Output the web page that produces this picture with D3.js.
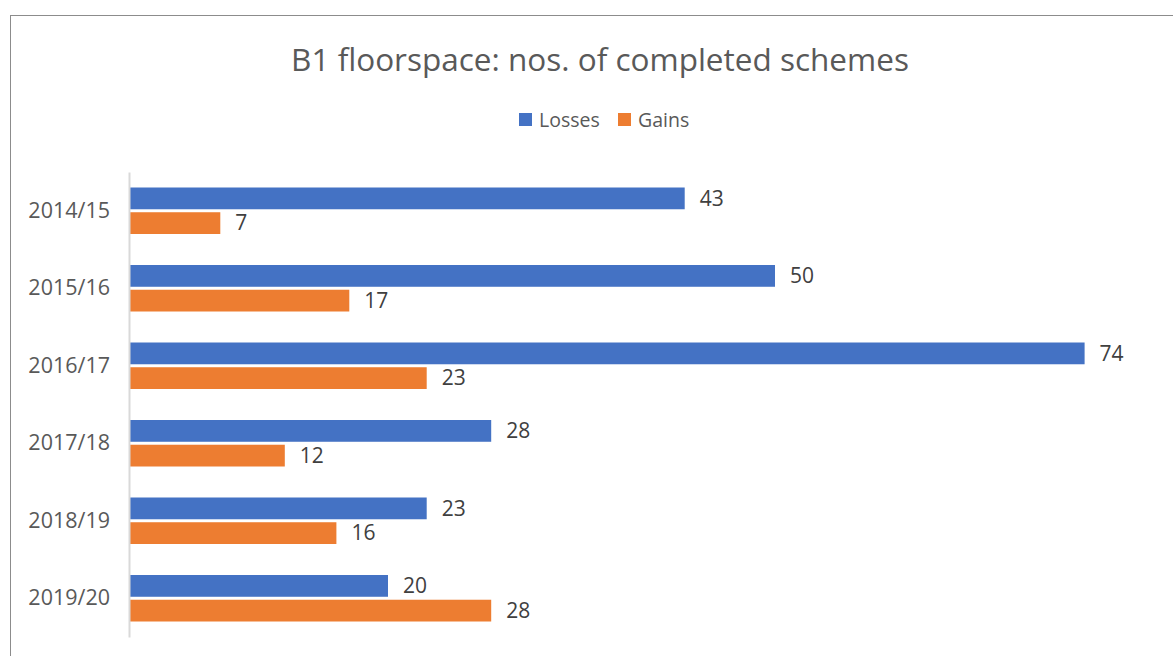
<!DOCTYPE html>
<html>
<head>
<meta charset="utf-8">
<script src="https://cdn.jsdelivr.net/npm/d3@7"></script>
<style>
  body { margin: 0; background: #fff; }
  text { font-family: "Open Sans", "Noto Sans", sans-serif; }
</style>
</head>
<body>
<script>
var width = 1173;
var height = 656;

var years = ["2014/15", "2015/16", "2016/17", "2017/18", "2018/19", "2019/20"];
var losses = [43, 50, 74, 28, 23, 20];
var gains = [7, 17, 23, 12, 16, 28];
var seriesNames = ["Losses", "Gains"];
var colors = ["#4472c4", "#ed7d31"];

var svg = d3.select("body").append("svg")
    .attr("width", width)
    .attr("height", height);

// chart border (runs off the right and bottom edges)
svg.append("rect")
    .attr("x", 10.5)
    .attr("y", 15.5)
    .attr("width", 1200)
    .attr("height", 700)
    .attr("fill", "#fff")
    .attr("stroke", "#8c8c8c")
    .attr("stroke-width", 1);

svg.append("text")
    .attr("x", 600)
    .attr("y", 71)
    .attr("text-anchor", "middle")
    .attr("font-size", 31.5)
    .attr("fill", "#595959")
    .text("B1 floorspace: nos. of completed schemes");

// legend
var legendX = [519, 618];
var legend = svg.selectAll(".legend")
    .data(seriesNames)
  .enter().append("g")
    .attr("class", "legend")
    .attr("transform", function(d, i) { return "translate(" + legendX[i] + ",113)"; });

legend.append("rect")
    .attr("width", 13)
    .attr("height", 13)
    .attr("fill", function(d, i) { return colors[i]; });

legend.append("text")
    .attr("x", 20)
    .attr("y", 14)
    .attr("font-size", 19.5)
    .attr("fill", "#595959")
    .text(function(d) { return d; });

var x = d3.scaleLinear()
    .domain([0, 80])
    .range([130, 1162]);

var y = d3.scaleBand()
    .domain(years)
    .range([172, 637]);

var inner = d3.scaleBand()
    .domain(seriesNames)
    .range([15.5, y.bandwidth() - 15.5])
    .paddingInner(0.12);

var rows = years.map(function(yr, i) {
  return { year: yr, values: [losses[i], gains[i]] };
});

var groups = svg.selectAll(".row")
    .data(rows)
  .enter().append("g")
    .attr("class", "row")
    .attr("transform", function(d) { return "translate(0," + y(d.year) + ")"; });

groups.selectAll("rect")
    .data(function(d) { return d.values; })
  .enter().append("rect")
    .attr("x", x(0))
    .attr("y", function(d, i) { return inner(seriesNames[i]); })
    .attr("width", function(d) { return x(d) - x(0); })
    .attr("height", inner.bandwidth())
    .attr("fill", function(d, i) { return colors[i]; });

groups.selectAll(".val")
    .data(function(d) { return d.values; })
  .enter().append("text")
    .attr("class", "val")
    .attr("x", function(d) { return x(d) + 15; })
    .attr("y", function(d, i) { return inner(seriesNames[i]) + inner.bandwidth() / 2; })
    .attr("dy", "0.35em")
    .attr("font-size", 21)
    .attr("fill", "#404040")
    .text(function(d) { return d; });

// category axis
var yAxis = svg.append("g")
    .attr("transform", "translate(129,0)")
    .call(d3.axisLeft(y).tickSize(0).tickPadding(19));

yAxis.select(".domain")
    .attr("stroke", "#d9d9d9")
    .attr("stroke-width", 2);

yAxis.selectAll("text")
    .attr("font-size", 21.5)
    .attr("fill", "#595959")
    .style("font-family", "'Open Sans', 'Noto Sans', sans-serif");
</script>
</body>
</html>
